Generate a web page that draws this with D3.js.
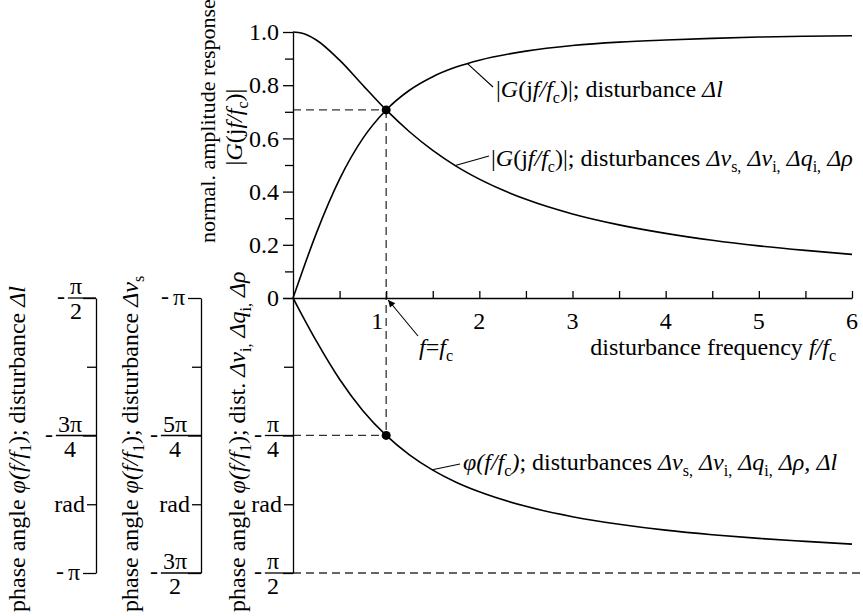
<!DOCTYPE html>
<html>
<head>
<meta charset="utf-8">
<script src="https://cdn.jsdelivr.net/npm/d3@7"></script>
<style>
    body { margin: 0; background: #fff; }
    .axis path, .axis line { stroke: #000; stroke-width: 1.3; fill: none; }
    .curve { fill: none; stroke: #000; stroke-width: 1.6; }
    .guide { fill: none; stroke: #333; stroke-width: 1.3; stroke-dasharray: 8,5; }
    .lead { stroke: #000; stroke-width: 1.1; }
</style>
</head>
<body>
<svg id="vis"></svg>
<script>
// values (f/fc, normalised amplitude, phase in rad)
var freq        = [0, 0.1, 0.25, 0.5, 0.75, 1, 1.25, 1.5, 1.75, 2, 2.5, 3, 3.5, 4, 4.5, 5, 5.5, 6];
var ampLowPass  = [1, 0.995, 0.970, 0.894, 0.800, 0.707, 0.625, 0.555, 0.496, 0.447, 0.371, 0.316, 0.275, 0.243, 0.217, 0.196, 0.179, 0.164];
var ampHighPass = [0, 0.100, 0.243, 0.447, 0.600, 0.707, 0.781, 0.832, 0.868, 0.894, 0.928, 0.949, 0.962, 0.970, 0.976, 0.981, 0.984, 0.986];
var phase       = [0, -0.100, -0.245, -0.464, -0.644, -0.785, -0.896, -0.983, -1.052, -1.107, -1.190, -1.249, -1.292, -1.326, -1.352, -1.373, -1.390, -1.406];

var cornerFreq = 1, cornerAmp = 0.707, cornerPhase = -0.785;

var freqTicks = [0.5, 1, 1.5, 2, 2.5, 3, 3.5, 4, 4.5, 5, 5.5, 6];
var freqLabelTicks = [1, 2, 3, 4, 5, 6];
var freqTickLabels = ["1", "2", "3", "4", "5", "6"];

var ampTicks = [0, 0.2, 0.4, 0.6, 0.8, 1.0];
var ampTickLabels = ["0", "0.2", "0.4", "0.6", "0.8", "1.0"];
var ampMinorTicks = [0.1, 0.3, 0.5, 0.7, 0.9];

var PI = Math.PI;
var phaseTicks = [-PI / 4, -PI / 2];
var phaseTickLabels = ["-π/4", "-π/2"];
var phaseTicksL1 = [-PI / 2, -3 * PI / 4, -PI];
var phaseTickLabelsL1 = ["-π/2", "-3π/4", "-π"];
var phaseTicksL2 = [-PI, -5 * PI / 4, -3 * PI / 2];
var phaseTickLabelsL2 = ["-π", "-5π/4", "-3π/2"];

var FONT = "'Liberation Serif'";
var FS = "24px", SUB = "16px";

var margin = {top: 32, left: 293},
    width = 559,
    ampHeight = 266,
    phHeight = 275,
    x0 = margin.left,
    y0 = margin.top + ampHeight;

var svg = d3.select("#vis").attr("width", 863).attr("height", 616);

var xScale = d3.scaleLinear().domain([0, 6]).range([x0, x0 + width]);
var yAmp = d3.scaleLinear().domain([0, 1]).range([y0, margin.top]);
var yPh = d3.scaleLinear().domain([-PI / 2, 0]).range([y0 + phHeight, y0]);
var yPh1 = d3.scaleLinear().domain([-PI, -PI / 2]).range([y0 + phHeight, y0]);
var yPh2 = d3.scaleLinear().domain([-3 * PI / 2, -PI]).range([y0 + phHeight, y0]);

function txt(parent) {
    return parent.append("text").style("font-family", FONT).style("font-size", FS).attr("fill", "#000");
}

// text with italic parts and subscripts
function rich(text, parts) {
    var shift = 0;
    parts.forEach(function (p) {
        var t = text.append("tspan").text(p[0]);
        if (p[1] === "i") t.style("font-style", "italic");
        if (p[1] === "s") {
            t.style("font-size", SUB).attr("dy", 6 - shift);
            shift = 6;
        } else if (shift) {
            t.attr("dy", -shift);
            shift = 0;
        }
    });
    return text;
}

// d3 axes put their own font on the group
function fontAxis(g) {
    g.attr("font-family", null).attr("font-size", null);
    g.selectAll("text").style("font-family", FONT).style("font-size", FS).attr("fill", "#000");
}

// ---- guides (dashed)
svg.append("line").attr("class", "guide")
    .attr("x1", xScale(0)).attr("x2", xScale(cornerFreq))
    .attr("y1", yAmp(cornerAmp)).attr("y2", yAmp(cornerAmp));
svg.append("line").attr("class", "guide")
    .attr("x1", xScale(cornerFreq)).attr("x2", xScale(cornerFreq))
    .attr("y1", yAmp(cornerAmp)).attr("y2", yPh(cornerPhase));
svg.append("line").attr("class", "guide")
    .attr("x1", xScale(0)).attr("x2", xScale(cornerFreq))
    .attr("y1", yPh(cornerPhase)).attr("y2", yPh(cornerPhase));
svg.append("line").attr("class", "guide")
    .attr("x1", xScale(0)).attr("x2", 863)
    .attr("y1", yPh(-PI / 2)).attr("y2", yPh(-PI / 2));

// ---- amplitude axis
svg.append("g").attr("class", "axis")
    .attr("transform", "translate(" + x0 + ",0)")
    .call(d3.axisLeft(yAmp).tickValues(ampTicks).tickSize(10).tickPadding(4).tickSizeOuter(0)
        .tickFormat(function (d, i) { return ampTickLabels[i]; }))
    .call(fontAxis);
svg.append("g").attr("class", "axis")
    .attr("transform", "translate(" + x0 + ",0)")
    .call(d3.axisLeft(yAmp).tickValues(ampMinorTicks).tickSize(8).tickFormat(""))
    .select(".domain").remove();

// ---- phase axes
function midpoints(t) {
    return d3.pairs(t).map(function (p) { return (p[0] + p[1]) / 2; });
}

function phaseLabels(g, ax, scale, ticks, labels) {
    ticks.forEach(function (v, i) {
        var y = scale(v), s = labels[i];
        if (s === "0") return; // already on the amplitude axis
        var sign = s.charAt(0) === "-" ? "-" : "";
        var body = sign ? s.slice(1) : s;
        var parts = body.split("/");
        if (parts.length === 2) {
            var num = txt(g).attr("x", ax - 14).attr("y", y - 4)
                .attr("text-anchor", "end").text(parts[0]);
            var w = num.node().getComputedTextLength();
            txt(g).attr("x", ax - 14 - w / 2).attr("y", y + 21)
                .attr("text-anchor", "middle").text(parts[1]);
            g.append("line").attr("x1", ax - 16 - w).attr("x2", ax)
                .attr("y1", y).attr("y2", y)
                .attr("stroke", "#000").attr("stroke-width", 1.3);
            txt(g).attr("x", ax - 19 - w).attr("y", y + 6)
                .attr("text-anchor", "end").text(sign);
        } else {
            var t = txt(g).attr("x", ax - 16).attr("y", y + 7)
                .attr("text-anchor", "end").text(body);
            var w2 = t.node().getComputedTextLength();
            txt(g).attr("x", ax - 20 - w2).attr("y", y + 6)
                .attr("text-anchor", "end").text(sign);
        }
    });
}

function phaseAxis(ax, scale, ticks, labels, majorSize) {
    svg.append("g").attr("class", "axis")
        .attr("transform", "translate(" + ax + ",0)")
        .call(d3.axisLeft(scale).tickValues(ticks).tickSize(majorSize).tickSizeOuter(0).tickFormat(""));
    var minor = svg.append("g").attr("class", "axis")
        .attr("transform", "translate(" + ax + ",0)");
    minor.call(d3.axisLeft(scale).tickValues(midpoints(ticks)).tickSize(9).tickPadding(2)
        .tickFormat(function (d, i) { return i === 1 ? "rad" : ""; }))
        .call(fontAxis);
    minor.select(".domain").remove();
    phaseLabels(svg.append("g"), ax, scale, ticks, labels);
}

phaseAxis(x0, yPh, [0].concat(phaseTicks), ["0"].concat(phaseTickLabels), 10);
phaseAxis(96, yPh1, phaseTicksL1, phaseTickLabelsL1, 13);
phaseAxis(201, yPh2, phaseTicksL2, phaseTickLabelsL2, 13);

// ---- frequency axis
svg.append("g").attr("class", "axis")
    .attr("transform", "translate(0," + y0 + ")")
    .call(d3.axisBottom(xScale).tickValues(freqTicks).tickSize(-7).tickSizeOuter(0).tickFormat(""));

var xl = svg.append("g");
freqLabelTicks.forEach(function (d, i) {
    txt(xl).attr("x", i === 0 ? xScale(d) - 3 : xScale(d))
        .attr("y", y0 + 31)
        .attr("text-anchor", i === 0 ? "end" : "middle")
        .text(freqTickLabels[i]);
});

// ---- curves
var line = d3.line().curve(d3.curveMonotoneX);
svg.append("path").attr("class", "curve")
    .attr("d", line(freq.map(function (f, i) { return [xScale(f), yAmp(ampLowPass[i])]; })));
svg.append("path").attr("class", "curve")
    .attr("d", line(freq.map(function (f, i) { return [xScale(f), yAmp(ampHighPass[i])]; })));
svg.append("path").attr("class", "curve")
    .attr("d", line(freq.map(function (f, i) { return [xScale(f), yPh(phase[i])]; })));

svg.append("circle").attr("cx", xScale(cornerFreq)).attr("cy", yAmp(cornerAmp)).attr("r", 4.5);
svg.append("circle").attr("cx", xScale(cornerFreq)).attr("cy", yPh(cornerPhase)).attr("r", 4.5);

// ---- curve labels with leader lines
function leader(xa, ya, xb, yb) {
    svg.append("line").attr("class", "lead")
        .attr("x1", xa).attr("y1", ya).attr("x2", xb).attr("y2", yb);
}

leader(xScale(1.87), yAmp(0.882), 493, 87);
rich(txt(svg).attr("x", 496).attr("y", 97),
    [["|", "n"], ["G", "i"], ["(j", "n"], ["f/f", "i"], ["c", "s"], [")|; disturbance ", "n"], ["Δl", "i"]]);

leader(xScale(1.742), yAmp(0.498), 489, 156);
rich(txt(svg).attr("x", 491).attr("y", 166),
    [["|", "n"], ["G", "i"], ["(j", "n"], ["f/f", "i"], ["c", "s"], [")|; disturbances ", "n"],
     ["Δv", "i"], ["s,", "s"], [" ", "n"], ["Δv", "i"], ["i,", "s"], [" ", "n"],
     ["Δq", "i"], ["i,", "s"], [" ", "n"], ["Δρ", "i"]]);

leader(xScale(1.495), yPh(-0.981), 460, 464);
rich(txt(svg).attr("x", 463).attr("y", 470),
    [["φ(f/f", "i"], ["c", "s"], [")", "i"], ["; disturbances ", "n"],
     ["Δv", "i"], ["s,", "s"], [" ", "n"], ["Δv", "i"], ["i,", "s"], [" ", "n"],
     ["Δq", "i"], ["i,", "s"], [" ", "n"], ["Δρ,", "i"], [" ", "n"], ["Δl", "i"]]);

// ---- f = fc marker
svg.append("defs").append("marker")
    .attr("id", "arrow").attr("viewBox", "0 0 10 10")
    .attr("refX", 10).attr("refY", 5)
    .attr("markerWidth", 11).attr("markerHeight", 7)
    .attr("markerUnits", "userSpaceOnUse")
    .attr("orient", "auto")
    .append("path").attr("d", "M0,0L10,5L0,10z");
svg.append("line").attr("class", "lead")
    .attr("x1", 418).attr("y1", 336)
    .attr("x2", xScale(cornerFreq) + 2).attr("y2", y0 + 2)
    .attr("marker-end", "url(#arrow)");
rich(txt(svg).attr("x", 419).attr("y", 355),
    [["f", "i"], ["=", "n"], ["f", "i"], ["c", "s"]]);

rich(txt(svg).attr("x", 836).attr("y", 355).attr("text-anchor", "end"),
    [["disturbance frequency ", "n"], ["f/f", "i"], ["c", "s"]]);

// ---- axis titles
txt(svg)
    .attr("transform", "translate(215,121) rotate(-90)")
    .attr("text-anchor", "middle")
    .style("font-size", "22px")
    .text("normal. amplitude response");
rich(txt(svg)
    .attr("transform", "translate(242,127) rotate(-90)")
    .attr("text-anchor", "middle"),
    [["|", "n"], ["G", "i"], ["(j", "n"], ["f/f", "i"], ["c", "s"], [")|", "n"]]);

rich(txt(svg).attr("transform", "translate(25,612) rotate(-90)"),
    [["phase angle ", "n"], ["φ(f/f", "i"], ["1", "s"], ["); disturbance ", "n"], ["Δl", "i"]]);
rich(txt(svg).attr("transform", "translate(138,612) rotate(-90)"),
    [["phase angle ", "n"], ["φ(f/f", "i"], ["1", "s"], ["); disturbance ", "n"], ["Δv", "i"], ["s", "s"]]);
rich(txt(svg).attr("transform", "translate(245,612) rotate(-90)"),
    [["phase angle ", "n"], ["φ(f/f", "i"], ["1", "s"], ["); dist. ", "n"],
     ["Δv", "i"], ["i,", "s"], [" ", "n"], ["Δq", "i"], ["i,", "s"], [" ", "n"], ["Δρ", "i"]]);
</script>
</body>
</html>
